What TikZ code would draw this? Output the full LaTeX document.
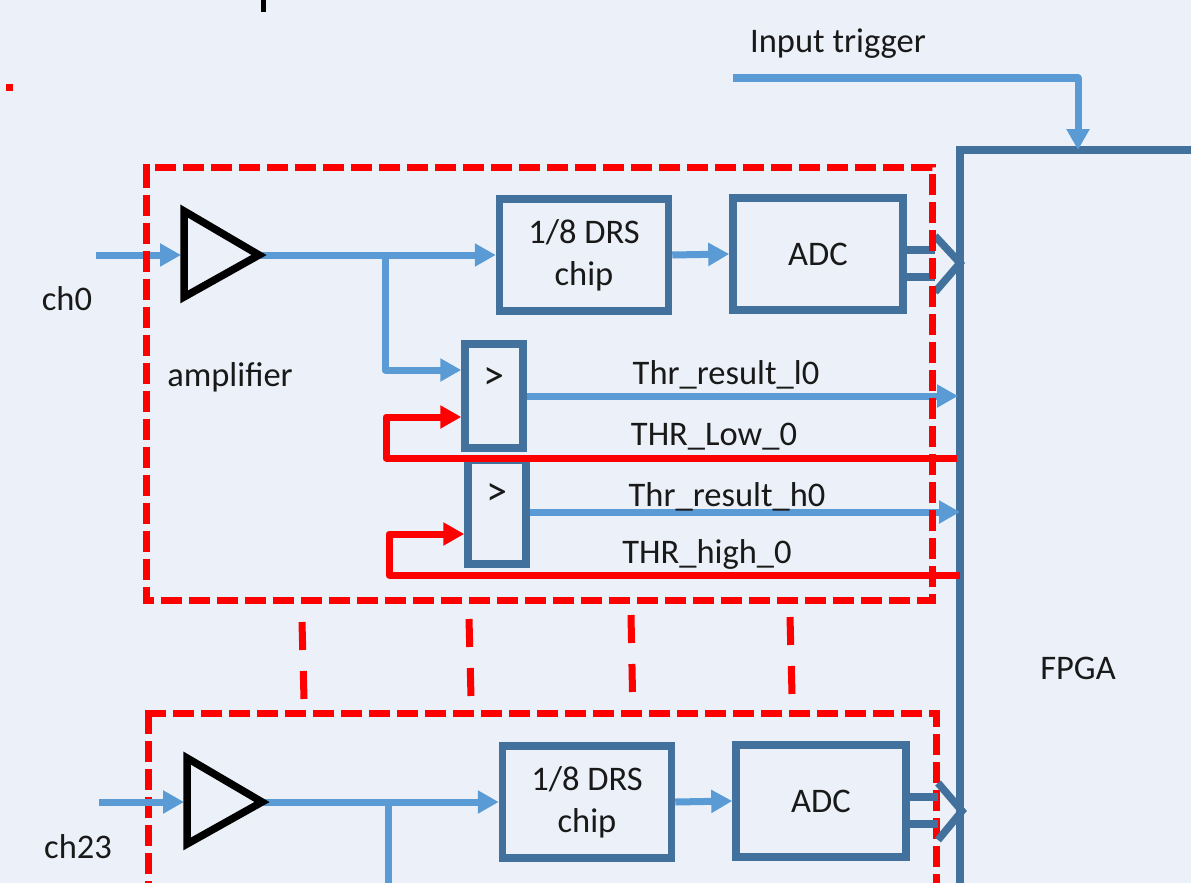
\documentclass[tikz,border=0pt]{standalone}
\usepackage{fontspec}
\setmainfont{Carlito}
\usetikzlibrary{arrows.meta}
\definecolor{bgc}{HTML}{ECF1F9}
\definecolor{boxc}{HTML}{41719C}
\definecolor{wire}{HTML}{5B9BD5}
\definecolor{redc}{HTML}{FF0000}
\tikzset{
  x=1pt,y=-1pt,
  lbl/.style={font=\fontsize{34.5}{42}\selectfont,text=black!90,inner sep=0pt,align=center},
  gtlbl/.style={font=\fontsize{42}{42}\selectfont,text=black!90,inner sep=0pt},
  block/.style={draw=boxc,line width=7.5pt,fill=none,font=\fontsize{34.5}{42}\selectfont,align=center,inner sep=0pt,text=black!90},
  cmp/.style={draw=boxc,line width=7.5pt,minimum width=58pt,minimum height=104pt,inner sep=0pt},
  sig/.style={draw=wire,line width=7pt,-{Triangle[length=21pt,width=22pt]}},
  sigline/.style={draw=wire,line width=7pt},
  thr/.style={draw=redc,line width=7pt,line join=round,-{Triangle[length=21pt,width=22pt]}},
  bus/.style={draw=boxc,line width=7.5pt},
  amp/.style={draw=black,line width=7.5pt,line join=miter},
  frame/.style={draw=redc,line width=7pt,dash pattern=on 21pt off 7pt},
  corner/.style={fill=redc},
  link/.style={draw=redc,line width=7pt,dash pattern=on 28pt off 21pt},
}
\begin{document}
\begin{tikzpicture}
\useasboundingbox (0,0) rectangle (1191,883);
\clip (0,0) rectangle (1191,883);
\fill[bgc] (0,0) rectangle (1191,883);
% stray marks
\fill[redc] (6,84) rectangle (13,91);
\fill[black] (260.5,0) rectangle (266,12);
% FPGA
\coordinate (fpgaTL) at (960,150);
\coordinate (fpgaBL) at (960,890);
\coordinate (fpgaTR) at (1195,150);
\draw[bus] (fpgaBL) -- (fpgaTL) -- (fpgaTR);
\node[lbl] (fpga) at (1078,668) {FPGA};
% input trigger
\node[lbl] (trig) at (838,44) {Input trigger};
\coordinate (trigS) at (733,78);
\coordinate (trigC) at (1078,78);
\draw[sig,line join=round] (trigS) -- (trigC) -- (trigC |- fpgaTL);
% channel 0
\node[lbl] (ch0) at (67,299) {ch0};
\node[lbl] (amplbl) at (230,377) {amplifier};
\coordinate (a0a) at (184,211);
\coordinate (a0b) at (184,297);
\coordinate (a0t) at (259,255);
\coordinate (a0in) at (96,255);
\coordinate (a0w) at (181,255);
\node[block,minimum width=169pt,minimum height=112pt] (drs0) at (584,255) {1/8 DRS\\chip};
\node[block,minimum width=170pt,minimum height=112pt] (adc0) at (818,254) {ADC};
\node[cmp] (cmpa) at (494,396) {};
\node[cmp] (cmpb) at (497,512) {};
\node[gtlbl] (gta) at (494,378) {>};
\node[gtlbl] (gtb) at (497,494) {>};
\coordinate (branch) at (385,255);
\coordinate (bend) at (385,370);
\draw[sig] (a0in) -- (a0w);
\draw[sig] (a0t) -- (drs0.west);
\draw[sig,line join=round] (branch) -- (bend) -- (bend -| cmpa.west);
\draw[sig] (drs0.east) -- (adc0.west);
\coordinate (fpgaA) at (958,396);
\coordinate (fpgaB) at (960,512);
\draw[sig] (cmpa.east) -- (fpgaA);
\draw[sig] (cmpb.east) -- (fpgaB);
\coordinate (ra) at (957,458);
\coordinate (rac) at (386,458);
\coordinate (rad) at (386,417);
\draw[thr] (ra) -- (rac) -- (rad) -- (rad -| cmpa.west);
\coordinate (rb) at (960,575);
\coordinate (rbc) at (389,575);
\coordinate (rbd) at (389,534);
\draw[thr] (rb) -- (rbc) -- (rbd) -- (rbd -| cmpb.west);
\draw[amp] (a0a) -- (a0b) -- (a0t) -- cycle;
\node[lbl] (l1) at (726,375) {Thr\_result\_l0};
\node[lbl] (l2) at (714,437) {THR\_Low\_0};
\node[lbl] (l3) at (727,497) {Thr\_result\_h0};
\node[lbl] (l4) at (707,554) {THR\_high\_0};
% ADC bus 0
\coordinate (c0a) at (935,236);
\coordinate (c0t) at (960,263);
\coordinate (c0b) at (935,292);
\draw[bus] (adc0.east |- 0,250) -- (935,250);
\draw[bus] (adc0.east |- 0,277) -- (935,277);
\draw[bus,line join=miter] (c0a) -- (c0t) -- (c0b);
% frames
\coordinate (f0a) at (146,167);
\coordinate (f0b) at (932,600);
\draw[frame] (f0a) rectangle (f0b);
\fill[corner,shift={(f0a)}] (-3.5,-3.5) rectangle (3.5,3.5);
\coordinate (f1a) at (148,713);
\coordinate (f1b) at (936,900);
\draw[frame] (f1a) rectangle (f1b);
\fill[corner,shift={(f1a)}] (-3.5,-3.5) rectangle (3.5,3.5);
% links
\coordinate (k1a) at (302,622); \coordinate (k1b) at (304,699);
\coordinate (k2a) at (469,619); \coordinate (k2b) at (471,697);
\coordinate (k3a) at (631,615); \coordinate (k3b) at (632.5,693);
\coordinate (k4a) at (790,617); \coordinate (k4b) at (792,694);
\draw[link] (k1a) -- (k1b);
\draw[link] (k2a) -- (k2b);
\draw[link] (k3a) -- (k3b);
\draw[link] (k4a) -- (k4b);
% channel 23
\node[lbl] (ch23) at (78,847) {ch23};
\coordinate (a1a) at (187,758);
\coordinate (a1b) at (187,844);
\coordinate (a1t) at (262,802);
\coordinate (a1in) at (99,802);
\coordinate (a1w) at (184,802);
\node[block,minimum width=169pt,minimum height=112pt] (drs1) at (587,802) {1/8 DRS\\chip};
\node[block,minimum width=170pt,minimum height=112pt] (adc1) at (821,801) {ADC};
\coordinate (branch1) at (388,802);
\coordinate (branch1e) at (388,890);
\draw[sig] (a1in) -- (a1w);
\draw[sig] (a1t) -- (drs1.west);
\draw[sigline] (branch1) -- (branch1e);
\draw[sig] (drs1.east) -- (adc1.west);
\draw[amp] (a1a) -- (a1b) -- (a1t) -- cycle;
\coordinate (c1a) at (938,783);
\coordinate (c1t) at (962,811);
\coordinate (c1b) at (938,840);
\draw[bus] (adc1.east |- 0,797) -- (938,797);
\draw[bus] (adc1.east |- 0,824) -- (938,824);
\draw[bus,line join=miter] (c1a) -- (c1t) -- (c1b);
\end{tikzpicture}
\end{document}
